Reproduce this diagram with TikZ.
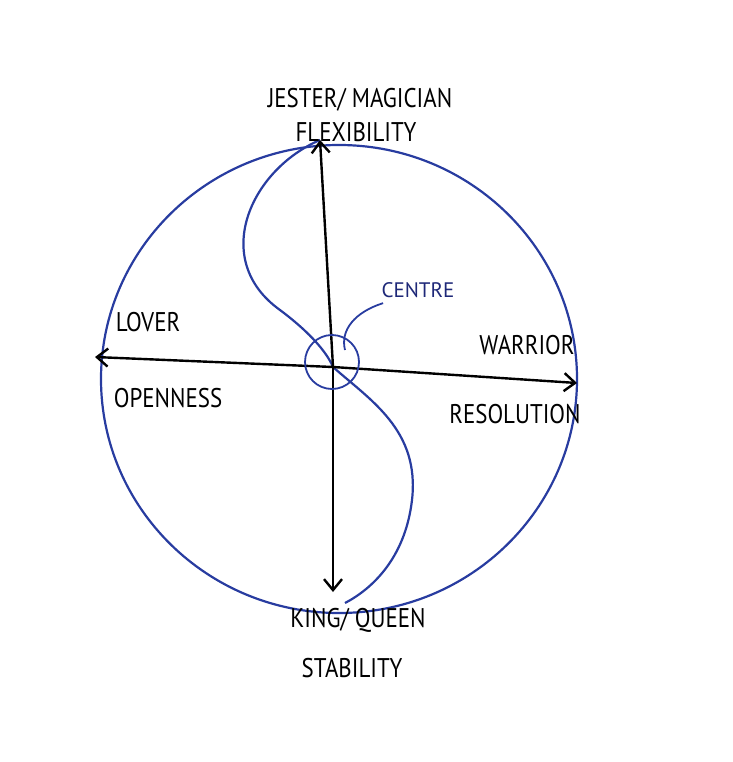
\documentclass[tikz,border=0pt]{standalone}
\usepackage{fontspec}
\setmainfont{PT Sans}
\usetikzlibrary{arrows.meta}
\begin{document}
\begin{tikzpicture}[x=1pt,y=-1pt,
  blue line/.style={draw={rgb,255:red,40;green,60;blue,160},line width=2.2pt},
  axis/.style={draw=black,line width=2.4pt,-{Straight Barb[length=11pt,width=18pt]}},
  lab/.style={font=\fontsize{27}{28}\selectfont\addfontfeature{FakeStretch=0.85}},
  bluelab/.style={font=\fontsize{21}{22}\selectfont,text={rgb,255:red,30;green,40;blue,120}}]
\useasboundingbox (0,0) rectangle (732,762);
\draw[blue line] (339,379) ellipse [x radius=238,y radius=234];
\coordinate (o) at (333,367);
\coordinate (top) at (320,140);
\coordinate (bot) at (333,592);
\coordinate (left) at (95,357);
\coordinate (right) at (577,383);
\draw[blue line] (top) .. controls (250,170) and (210,260) .. (280,310)
  .. controls (320,340) and (330,360) .. (o)
  .. controls (370,400) and (420,430) .. (412,500)
  .. controls (405,560) and (370,590) .. (345,603);
\draw[axis] (o) -- (top);
\draw[axis] (o) -- (bot);
\draw[axis] (o) -- (left);
\draw[axis] (o) -- (right);
\node[draw={rgb,255:red,40;green,60;blue,160},line width=1.8pt,circle,minimum size=54pt,inner sep=0] (c) at (332,362) {};
\node[bluelab] (cl) at (418,290) {CENTRE};
\draw[blue line,line width=1.8pt] (cl.south west) ++(5,2) .. controls (355,312) and (340,330) .. (345,350);
\node[lab] (j) at (360,100) {JESTER/ MAGICIAN};
\node[lab] (f) at (356,132) {FLEXIBILITY};
\node[lab] (l) at (148,322) {LOVER};
\node[lab] (op) at (168,398) {OPENNESS};
\node[lab] (w) at (527,345) {WARRIOR};
\node[lab] (r) at (515,414) {RESOLUTION};
\node[lab] (k) at (358,620) {KING/ QUEEN};
\node[lab] (s) at (352,668) {STABILITY};
\end{tikzpicture}
\end{document}
